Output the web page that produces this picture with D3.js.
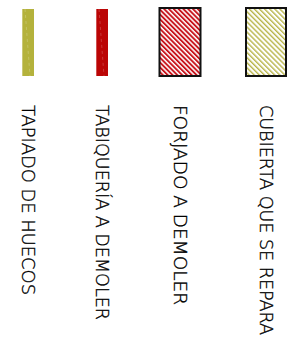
<!DOCTYPE html>
<html><head><meta charset="utf-8">
<script src="https://cdn.jsdelivr.net/npm/d3@7"></script>
<style>html,body{margin:0;padding:0;background:#fff;}</style>
</head><body>
<script>
const categories = ["TAPIADO DE HUECOS", "TABIQUERÍA A DEMOLER", "FORJADO A DEMOLER", "CUBIERTA QUE SE REPARA"];
const colors = ["#b4b23c", "#bb0505", "#c8141c", "#b8b448"];
const styles = ["solid", "solid", "hatch", "hatch"];
const swatchWidths = [12, 12, 41, 40];
const labelLengths = [190, 215, 200, 230];
const centers = [28, 102, 180, 266];

const W = 304, H = 350;
const svg = d3.select("body").append("svg").attr("width", W).attr("height", H);
const defs = svg.append("defs");

const cx = d3.scaleOrdinal().domain(categories).range(centers);

categories.forEach((c, i) => {
  if (styles[i] === "hatch") {
    const per = i === 2 ? 3.4 : 3.6;
    const sw = i === 2 ? 1.9 : 1.4;
    const p = defs.append("pattern").attr("id", "hatch" + i)
      .attr("patternUnits", "userSpaceOnUse").attr("width", per).attr("height", per)
      .attr("patternTransform", "rotate(-45)");
    p.append("rect").attr("width", per).attr("height", per).attr("fill", "#fff");
    p.append("rect").attr("x", 0).attr("width", sw).attr("height", per).attr("fill", colors[i]);
  }
});

const g = svg.selectAll("g.item").data(categories).join("g").attr("class", "item");

g.each(function(c, i) {
  const sel = d3.select(this);
  const w = swatchWidths[i];
  const x0 = cx(c) - w / 2;
  if (styles[i] === "solid") {
    sel.append("rect").attr("x", x0).attr("y", 9).attr("width", w).attr("height", 67).attr("fill", colors[i]);
    sel.append("line").attr("x1", x0 + 0.5).attr("x2", x0 + 0.5).attr("y1", 9).attr("y2", 76)
      .attr("stroke", "#fff").attr("stroke-opacity", 0.3).attr("stroke-width", 1);
    sel.append("line").attr("x1", x0 + 3).attr("x2", x0 + 8).attr("y1", 9).attr("y2", 76)
      .attr("stroke", "#fff").attr("stroke-opacity", 0.25).attr("stroke-width", 0.8).attr("stroke-dasharray", "3,3");
  } else {
    sel.append("rect").attr("x", x0).attr("y", 8).attr("width", w).attr("height", 68)
      .attr("fill", `url(#hatch${i})`).attr("stroke", "#111").attr("stroke-width", 2);
  }
  sel.append("text")
    .attr("transform", `translate(${cx(c) - 6.5},105) rotate(90)`)
    .attr("font-family", "'DejaVu Sans', sans-serif")
    .attr("font-weight", 200)
    .attr("font-size", 17.5)
    .attr("fill", "#000")
    .attr("stroke", "#000")
    .attr("stroke-width", 0.35)
    .attr("textLength", labelLengths[i])
    .attr("lengthAdjust", "spacingAndGlyphs")
    .text(c);
});
</script>
</body></html>
